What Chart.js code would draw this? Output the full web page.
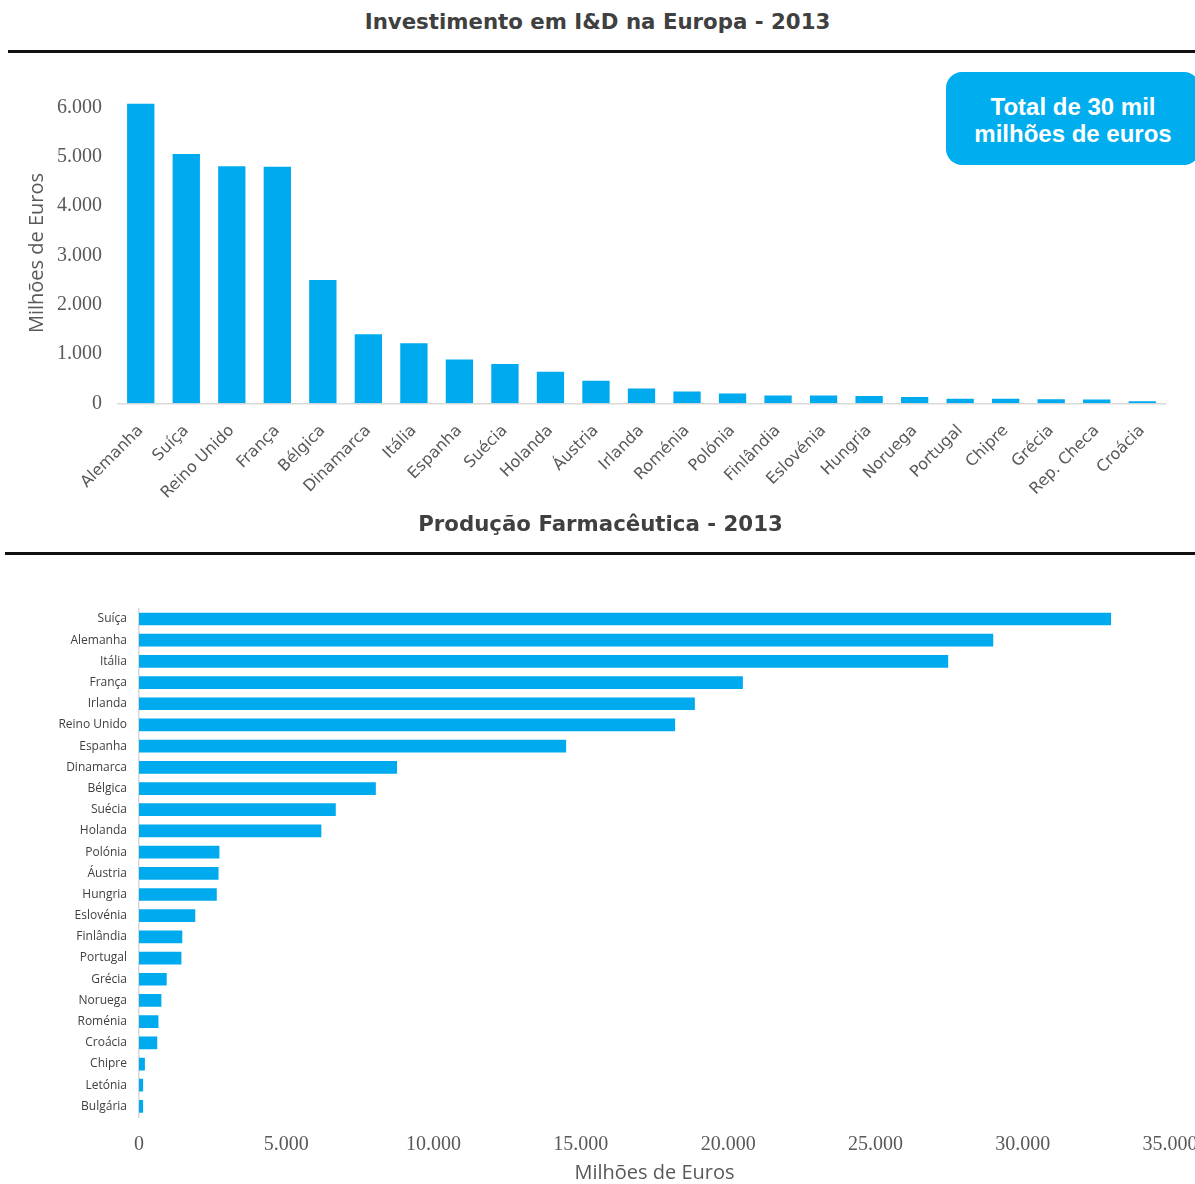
<!DOCTYPE html>
<html lang="pt">
<head>
<meta charset="utf-8">
<title>Investimento em I&amp;D e Produção Farmacêutica - 2013</title>
<script src="https://cdn.jsdelivr.net/npm/chart.js@4.4.1/dist/chart.umd.min.js"></script>
<style>
  html, body { margin: 0; padding: 0; background: #fff; }
  body { position: relative; width: 1195px; height: 1184px; overflow: hidden; }
  .title {
    position: absolute; left: 0; width: 1195px; text-align: center;
    font: bold 21.3px "DejaVu Sans", sans-serif; color: #404040;
    line-height: 30px; white-space: nowrap;
  }
  .rule { position: absolute; right: 0; height: 3px; background: #111; }
  #totalBox {
    position: absolute; left: 946px; top: 72px; width: 254px; height: 93px;
    border-radius: 16px; background: #00AEEF; color: #fff;
    font: bold 24px "Liberation Sans", Arial, sans-serif; line-height: 27px;
    text-align: center; box-sizing: border-box; padding-top: 21px; white-space: nowrap;
  }
  .chartWrap { position: absolute; left: 0; }
  canvas { display: block; }
</style>
</head>
<body>
<div class="title" style="top:7px">Investimento em I&amp;D na Europa - 2013</div>
<div class="rule" style="top:50px; left:8px"></div>

<div class="chartWrap" style="top:80px"><canvas id="rdChart" width="1195" height="450"></canvas></div>
<div id="totalBox">Total de 30 mil<br>milhões de euros</div>

<div class="title" style="top:509px; left:3px">Produção Farmacêutica - 2013</div>
<div class="rule" style="top:552px; left:5px"></div>

<div class="chartWrap" style="top:590px"><canvas id="prodChart" width="1240" height="596"></canvas></div>

<script>
// Investimento em I&D (milhões de euros), 2013
const rdCountries = ['Alemanha', 'Suíça', 'Reino Unido', 'França', 'Bélgica', 'Dinamarca', 'Itália',
  'Espanha', 'Suécia', 'Holanda', 'Áustria', 'Irlanda', 'Roménia', 'Polónia', 'Finlândia',
  'Eslovénia', 'Hungria', 'Noruega', 'Portugal', 'Chipre', 'Grécia', 'Rep. Checa', 'Croácia'];
const rdValues = [6080, 5060, 4810, 4800, 2500, 1400, 1220, 890, 800, 640, 460, 300, 240, 200, 160,
  160, 150, 130, 90, 90, 80, 75, 40];
const rdTicks = [0, 1000, 2000, 3000, 4000, 5000, 6000];

// Produção farmacêutica (milhões de euros), 2013
const prodCountries = ['Suíça', 'Alemanha', 'Itália', 'França', 'Irlanda', 'Reino Unido', 'Espanha',
  'Dinamarca', 'Bélgica', 'Suécia', 'Holanda', 'Polónia', 'Áustria', 'Hungria', 'Eslovénia',
  'Finlândia', 'Portugal', 'Grécia', 'Noruega', 'Roménia', 'Croácia', 'Chipre', 'Letónia', 'Bulgária'];
const prodValues = [33000, 29000, 27470, 20500, 18870, 18200, 14500, 8760, 8040, 6680, 6190, 2730,
  2700, 2640, 1910, 1470, 1440, 940, 760, 660, 620, 200, 140, 140];
const prodTicks = [0, 5000, 10000, 15000, 20000, 25000, 30000, 35000];

const BAR_BLUE = '#00AAEE';
const TEXT_GREY = '#595959';
const AXIS_GREY = '#D9D9D9';

// Portuguese thousands separator: 6000 -> "6.000"
function fmt(v) {
  return String(Math.round(v)).replace(/\B(?=(\d{3})+(?!\d))/g, '.');
}

Chart.defaults.animation = false;
Chart.defaults.plugins.legend.display = false;
Chart.defaults.plugins.tooltip.enabled = false;

new Chart(document.getElementById('rdChart'), {
  type: 'bar',
  data: {
    labels: rdCountries,
    datasets: [{ data: rdValues, backgroundColor: BAR_BLUE, borderWidth: 0,
      categoryPercentage: 1, barPercentage: 0.6 }]
  },
  options: {
    responsive: false,
    devicePixelRatio: 1,
    layout: { padding: { top: 22.7, right: 30, left: 0, bottom: 0 } },
    scales: {
      x: {
        grid: { display: false, drawTicks: false },
        border: { display: true, color: AXIS_GREY, width: 1.5 },
        ticks: {
          autoSkip: false, minRotation: 45, maxRotation: 45, padding: 18,
          color: TEXT_GREY, font: { family: 'DejaVu Sans', size: 16 }
        },
        afterFit: s => { s.height = 450 - 323.3; }
      },
      y: {
        min: 0, max: 6100,
        grid: { display: false, drawTicks: false },
        border: { display: false },
        afterBuildTicks: s => { s.ticks = rdTicks.map(v => ({ value: v })); },
        ticks: {
          padding: 16, color: TEXT_GREY,
          font: { family: 'Liberation Serif', size: 20 },
          callback: v => fmt(v)
        },
        title: {
          display: true, text: 'Milhões de Euros', color: TEXT_GREY,
          font: { family: 'Open Sans', size: 20, lineHeight: 1.2 },
          padding: { top: 25, bottom: 0 }
        },
        afterFit: s => { s.width = 118; s.paddingTop = 0; s.paddingBottom = 0; }
      }
    }
  }
});

new Chart(document.getElementById('prodChart'), {
  type: 'bar',
  data: {
    labels: prodCountries,
    datasets: [{ data: prodValues, backgroundColor: BAR_BLUE, borderWidth: 0,
      categoryPercentage: 1, barPercentage: 0.6 }]
  },
  options: {
    indexAxis: 'y',
    responsive: false,
    devicePixelRatio: 1,
    layout: { padding: { top: 18.4, right: 70, left: 0, bottom: 0 } },
    scales: {
      x: {
        min: 0, max: 35000,
        grid: { display: false, drawTicks: false },
        border: { display: false },
        afterBuildTicks: s => { s.ticks = prodTicks.map(v => ({ value: v })); },
        ticks: {
          padding: 16, color: TEXT_GREY,
          font: { family: 'Liberation Serif', size: 20 },
          callback: v => fmt(v)
        },
        title: {
          display: true, text: 'Milhões de Euros', color: TEXT_GREY,
          font: { family: 'Open Sans', size: 20, lineHeight: 1.2 },
          padding: { top: 0, bottom: 0.5 }
        },
        afterFit: s => { s.height = 596 - 527; }
      },
      y: {
        grid: { display: false, drawTicks: false },
        border: { display: true, color: AXIS_GREY, width: 1.5 },
        ticks: {
          autoSkip: false, padding: 12, color: '#404040',
          font: { family: 'Open Sans', size: 12 }
        },
        afterFit: s => { s.width = 139; s.paddingTop = 0; s.paddingBottom = 0; }
      }
    }
  }
});
</script>
</body>
</html>
